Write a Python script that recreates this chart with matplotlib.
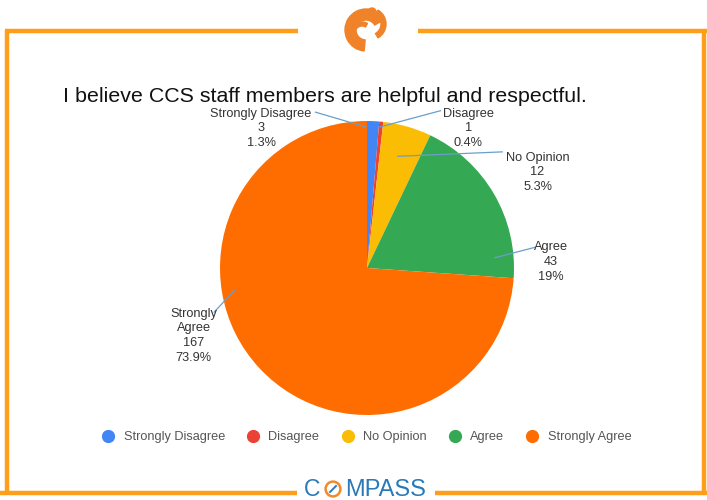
import matplotlib.pyplot as plt
from matplotlib.lines import Line2D
from matplotlib.patches import Wedge, Circle

plt.rcParams['font.family'] = ['Liberation Sans', 'DejaVu Sans']

# Chart data
categories = ['Strongly Disagree', 'Disagree', 'No Opinion', 'Agree', 'Strongly Agree']
label_names = ['Strongly Disagree', 'Disagree', 'No Opinion', 'Agree', 'Strongly\nAgree']
counts = [3, 1, 12, 43, 167]
colors = ['#4285F4', '#EA4335', '#FBBC04', '#34A853', '#FF6D01']
title = 'I believe CCS staff members are helpful and respectful.'

# Label layout (pie-axes coordinates, radius = 1)
label_pos = [(-0.72, 0.95), (0.69, 0.95), (1.16, 0.65), (1.25, 0.04), (-1.18, -0.46)]
anchor_pos = [(-0.01, 0.96), (0.09, 0.96), (0.21, 0.76), (0.87, 0.07), (-0.90, -0.15)]
line_end = [(-0.35, 1.06), (0.50, 1.07), (0.92, 0.79), (1.14, 0.14), (-1.04, -0.30)]

W, H = 707, 500
fig = plt.figure(figsize=(W / 100, H / 100), dpi=100)

# overlay axes in pixel units for frame and decorations
deco = fig.add_axes([0, 0, 1, 1])
deco.set_xlim(0, W)
deco.set_ylim(H, 0)
deco.axis('off')

frame_c = '#FF9E1B'
lw = 3.2
deco.plot([5, 298], [31, 31], color=frame_c, lw=lw, solid_capstyle='butt')
deco.plot([418, 707], [31, 31], color=frame_c, lw=lw, solid_capstyle='butt')
deco.plot([7, 7], [29.5, 494], color=frame_c, lw=lw, solid_capstyle='butt')
deco.plot([704, 704], [29.5, 494], color=frame_c, lw=lw, solid_capstyle='butt')
deco.plot([0, 297], [493, 493], color=frame_c, lw=lw, solid_capstyle='butt')
deco.plot([435, 707], [493, 493], color=frame_c, lw=lw, solid_capstyle='butt')

# top logo (swirl)
logo_c = '#F0822A'
deco.add_patch(Wedge((366, 30), 21, 95, 330, width=11, color=logo_c))
deco.add_patch(Wedge((370, 24), 16, 300, 420, width=5, color=logo_c))
deco.add_patch(Wedge((362, 33), 11, 200, 300, width=4, color=logo_c))
deco.add_patch(Circle((372, 12), 4, color=logo_c))

# bottom logo text
blue = '#2A7AB8'
deco.text(304, 490, 'C', fontsize=16.5, color=blue, ha='left', va='center')
deco.add_patch(Circle((333, 489), 7.4, fill=False, ec='#F08A2C', lw=1.8))
deco.plot([330, 336], [492, 486], color=blue, lw=1.4)
deco.text(345, 490, 'MPASS', fontsize=17, color=blue, ha='left', va='center')

# title
deco.text(63, 96, title, fontsize=15.4, color='#111111', ha='left', va='center')

# pie
cx, cy, r = 367, 268, 147
ax = fig.add_axes([(cx - r) / W, (H - cy - r) / H, 2 * r / W, 2 * r / H])
ax.pie(counts, colors=colors, startangle=90, counterclock=False,
       wedgeprops=dict(linewidth=0))
ax.set_xlim(-1, 1)
ax.set_ylim(-1, 1)
ax.set_aspect('equal')
ax.axis('off')

total = sum(counts)
for name, n, lp, ap, le in zip(label_names, counts, label_pos, anchor_pos, line_end):
    pct = f"{100 * n / total:.1f}".rstrip('0').rstrip('.')
    ax.text(lp[0], lp[1], f"{name}\n{n}\n{pct}%", ha='center', va='center',
            fontsize=9.2, color='#333333', linespacing=1.3, clip_on=False)
    ax.plot([ap[0], le[0]], [ap[1], le[1]], color='#6A9FCB', lw=0.9, clip_on=False)

# legend
handles = [Line2D([0], [0], marker='o', color='none', markerfacecolor=c,
                  markeredgecolor=c, markersize=8.5) for c in colors]
fig.legend(handles, categories, loc='center', bbox_to_anchor=(366 / W, 1 - 437 / H),
           ncol=5, frameon=False, fontsize=9.2, labelcolor='#555555',
           handletextpad=0.6, columnspacing=1.6, handlelength=1.2)

fig.savefig('out.png', dpi=100)
